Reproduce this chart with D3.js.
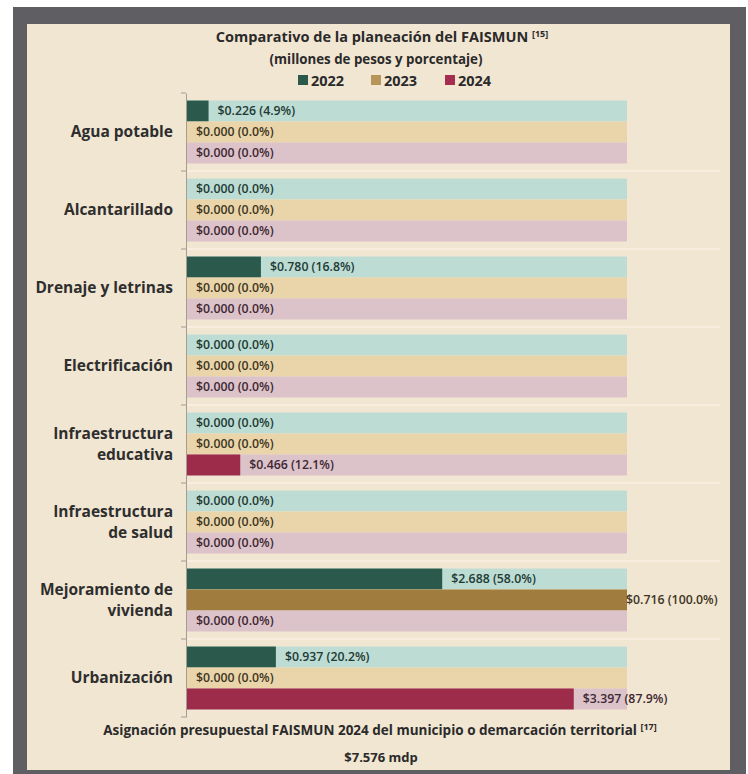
<!DOCTYPE html>
<html><head><meta charset="utf-8">
<script src="https://cdn.jsdelivr.net/npm/d3@7"></script>
<style>body{margin:0;background:#fff;}svg{display:block;}</style>
</head><body>
<script>
const categories = ["Agua potable","Alcantarillado","Drenaje y letrinas","Electrificación","Infraestructura educativa","Infraestructura de salud","Mejoramiento de vivienda","Urbanización"];
const categoryLines = [["Agua potable"],["Alcantarillado"],["Drenaje y letrinas"],["Electrificación"],["Infraestructura","educativa"],["Infraestructura","de salud"],["Mejoramiento de","vivienda"],["Urbanización"]];
const years = ["2022","2023","2024"];
const values2022 = [0.226,0.000,0.780,0.000,0.000,0.000,2.688,0.937];
const pct2022    = [4.9,0.0,16.8,0.0,0.0,0.0,58.0,20.2];
const values2023 = [0.000,0.000,0.000,0.000,0.000,0.000,0.716,0.000];
const pct2023    = [0.0,0.0,0.0,0.0,0.0,0.0,100.0,0.0];
const values2024 = [0.000,0.000,0.000,0.000,0.466,0.000,0.000,3.397];
const pct2024    = [0.0,0.0,0.0,0.0,12.1,0.0,0.0,87.9];
const totalText = "$7.576 mdp";

const seriesValues = [values2022, values2023, values2024];
const seriesPct = [pct2022, pct2023, pct2024];
const barColors = ["#2b5a4c","#a07c3e","#9c2c4a"];
const legendColors = ["#2b5a4c","#b8955a","#a52d4e"];
const bgColors = ["#bddcd3","#ead5ab","#dcc2c9"];
const textColors = ["#223a35","#3e3522","#3e2834"];

const W = 748, H = 774;
const svg = d3.select("body").append("svg").attr("width", W).attr("height", H);

// frame
svg.append("rect").attr("x",13).attr("y",7).attr("width",733).attr("height",770).attr("fill","#5f5f63");
svg.append("rect").attr("x",27).attr("y",24).attr("width",703).attr("height",746).attr("fill","#f1e6d2");

const font = "'Open Sans', 'Noto Sans', sans-serif";

// title
const t = svg.append("text").attr("x",382).attr("y",42).attr("text-anchor","middle")
  .attr("font-family",font).attr("font-weight",700).attr("font-size",14.5).attr("fill","#2a2a2a");
t.append("tspan").text("Comparativo de la planeación del FAISMUN ");
t.append("tspan").attr("font-size",9).attr("dy",-5).text("[15]");
svg.append("text").attr("x",376).attr("y",64).attr("text-anchor","middle")
  .attr("font-family",font).attr("font-weight",700).attr("font-size",13.3).attr("fill","#2a2a2a")
  .text("(millones de pesos y porcentaje)");

// legend
const legX = [298, 371, 445];
years.forEach((yr,i)=>{
  svg.append("rect").attr("x",legX[i]).attr("y",75).attr("width",10).attr("height",10).attr("fill",legendColors[i]);
  svg.append("text").attr("x",legX[i]+13).attr("y",86).attr("font-family",font).attr("font-weight",700)
    .attr("font-size",14.5).attr("fill","#2a2a2a").text(yr);
});

// scales
const x = d3.scaleLinear().domain([0,100]).range([187,627]);
const y0 = d3.scaleBand().domain(categories).range([93,717]).paddingInner(0).paddingOuter(0);
const y1 = d3.scaleBand().domain(years).range([0,y0.bandwidth()]).paddingOuter(0.36).paddingInner(0);

// separators
const bounds = categories.map(c=>y0(c)).concat([y0.range()[1]]);
svg.append("g").selectAll("line").data(bounds.slice(1,-1)).join("line")
  .attr("x1",187).attr("x2",720).attr("y1",d=>d).attr("y2",d=>d)
  .attr("stroke","#f8f1e5").attr("stroke-width",1.5);

// groups
const g = svg.append("g");
categories.forEach((cat,ci)=>{
  years.forEach((yr,si)=>{
    const yy = y0(cat)+y1(yr);
    const h = y1.bandwidth();
    g.append("rect").attr("x",x(0)).attr("y",yy).attr("width",x(100)-x(0)).attr("height",h).attr("fill",bgColors[si]);
    const p = seriesPct[si][ci];
    if (p>0) g.append("rect").attr("x",x(0)).attr("y",yy).attr("width",x(p)-x(0)).attr("height",h).attr("fill",barColors[si]);
    const lx = Math.min(x(p)+9, x(100)-1);
    g.append("text").attr("x",lx).attr("y",yy+h/2).attr("dy","0.35em")
      .attr("font-family",font).attr("font-weight",600).attr("font-size",12.3).attr("fill",textColors[si])
      .text("$"+seriesValues[si][ci].toFixed(3)+" ("+p.toFixed(1)+"%)");
  });
  const lines = categoryLines[ci];
  const cy = y0(cat)+y0.bandwidth()/2;
  const lh = 21;
  lines.forEach((ln,li)=>{
    svg.append("text").attr("x",173).attr("y",cy+(li-(lines.length-1)/2)*lh).attr("dy","0.35em")
      .attr("text-anchor","end").attr("font-family",font).attr("font-weight",700).attr("font-size",15.5)
      .attr("fill","#2e2e2e").text(ln);
  });
});

// axis
const axis = d3.axisLeft(y0).tickValues([]).tickSizeOuter(0);
const ax = svg.append("g").attr("transform","translate(186,0)").call(axis);
ax.select(".domain").attr("stroke","#a39d92");
ax.selectAll(".bnd").data(bounds).join("line").attr("class","bnd")
  .attr("x1",-5).attr("x2",0).attr("y1",d=>d).attr("y2",d=>d).attr("stroke","#a39d92");

// footer
const f = svg.append("text").attr("x",380).attr("y",735).attr("text-anchor","middle")
  .attr("font-family",font).attr("font-weight",700).attr("font-size",13.5).attr("fill","#2a2a2a");
f.append("tspan").text("Asignación presupuestal FAISMUN 2024 del municipio o demarcación territorial ");
f.append("tspan").attr("font-size",9).attr("dy",-5).text("[17]");
svg.append("text").attr("x",381).attr("y",762).attr("text-anchor","middle")
  .attr("font-family",font).attr("font-weight",700).attr("font-size",13).attr("fill","#2a2a2a").text(totalText);
</script>
</body></html>
